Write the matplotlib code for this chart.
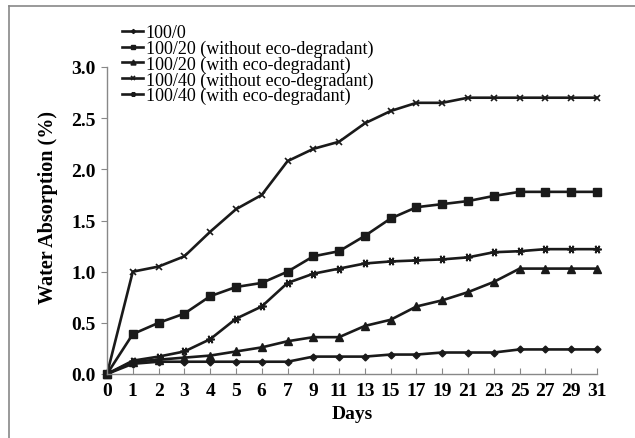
import matplotlib
matplotlib.use("Agg")
import matplotlib.pyplot as plt
from matplotlib.lines import Line2D

days = ["0", "1", "2", "3", "4", "5", "6", "7", "9", "11", "13", "15", "17", "19", "21", "23", "25", "27", "29", "31"]

s_100_0 = [0.0, 0.10, 0.12, 0.12, 0.12, 0.12, 0.12, 0.12, 0.17, 0.17, 0.17, 0.19, 0.19, 0.21, 0.21, 0.21, 0.24, 0.24, 0.24, 0.24]
s_100_20_wo = [0.0, 0.39, 0.50, 0.59, 0.76, 0.85, 0.89, 1.00, 1.15, 1.20, 1.35, 1.52, 1.63, 1.66, 1.69, 1.74, 1.78, 1.78, 1.78, 1.78]
s_100_20_w = [0.0, 0.12, 0.14, 0.16, 0.18, 0.22, 0.26, 0.32, 0.36, 0.36, 0.47, 0.53, 0.66, 0.72, 0.80, 0.90, 1.03, 1.03, 1.03, 1.03]
s_100_40_wo = [0.0, 1.00, 1.05, 1.15, 1.39, 1.61, 1.75, 2.08, 2.20, 2.27, 2.45, 2.57, 2.65, 2.65, 2.70, 2.70, 2.70, 2.70, 2.70, 2.70]
s_100_40_w = [0.0, 0.13, 0.17, 0.22, 0.34, 0.54, 0.66, 0.89, 0.98, 1.03, 1.08, 1.10, 1.11, 1.12, 1.14, 1.19, 1.20, 1.22, 1.22, 1.22]

labels = ["100/0", "100/20 (without eco-degradant)", "100/20 (with eco-degradant)",
          "100/40 (without eco-degradant)", "100/40 (with eco-degradant)"]

yticks = [0.0, 0.5, 1.0, 1.5, 2.0, 2.5, 3.0]

plt.rcParams['font.family'] = ['Liberation Serif', 'DejaVu Serif']

fig = plt.figure(figsize=(6.35, 4.39), dpi=100)
ax = fig.add_axes([107/635, 1-375/439, 490/635, 307/439])

col = '#1a1a1a'
x = list(range(len(days)))
styles = [
    dict(marker='D', ms=3.5),
    dict(marker='s', ms=6),
    dict(marker='^', ms=6),
    dict(marker='x', ms=5, mew=1.2),
    dict(marker=(6, 2, 90), ms=6, mew=1.2),
]
series = [s_100_0, s_100_20_wo, s_100_20_w, s_100_40_wo, s_100_40_w]
handles = []
for s, st, lab in zip(series, styles, labels):
    h, = ax.plot(x, s, color=col, lw=1.9, label=lab, clip_on=False, **st)
    handles.append(h)

ax.set_xlim(0, len(days) - 1)
ax.set_ylim(0, 3.0)
ax.set_xticks(x)
ax.set_xticklabels(days)
ax.set_yticks(yticks)
ax.set_yticklabels([f"{v:.1f}" for v in yticks])
for lab in ax.get_xticklabels() + ax.get_yticklabels():
    lab.set_fontweight('bold')
    lab.set_fontsize(14)
ax.tick_params(axis='x', direction='in', length=4, color='#888888', pad=6)
ax.tick_params(axis='y', direction='out', length=4, color='#888888', pad=4)
ax.spines['top'].set_visible(False)
ax.spines['right'].set_visible(False)
for sp in ('left', 'bottom'):
    ax.spines[sp].set_color('#888888')
    ax.spines[sp].set_linewidth(1.0)

ax.set_xlabel("Days", fontsize=14, fontweight='bold', labelpad=4)
ax.set_ylabel("Water Absorption (%)", fontsize=14.5, fontweight='bold')
ax.yaxis.set_label_coords(-0.10, 0.544)

leg = ax.legend(handles=handles, loc='upper left', bbox_to_anchor=(0.03, 1.14),
                frameon=False, fontsize=13, handlelength=1.2, handletextpad=0.12,
                labelspacing=-0.08, borderpad=0, borderaxespad=0)
for h in leg.legend_handles:
    h.set_markersize(h.get_markersize() * 0.6)

# outer frame (top and left edges visible)
fig.add_artist(Line2D([9/635, 9/635], [0, 1-7/439], transform=fig.transFigure, color='#888888', lw=1.2))
fig.add_artist(Line2D([9/635, 1], [1-7/439, 1-7/439], transform=fig.transFigure, color='#888888', lw=1.2))

fig.savefig("out.png", dpi=100)
